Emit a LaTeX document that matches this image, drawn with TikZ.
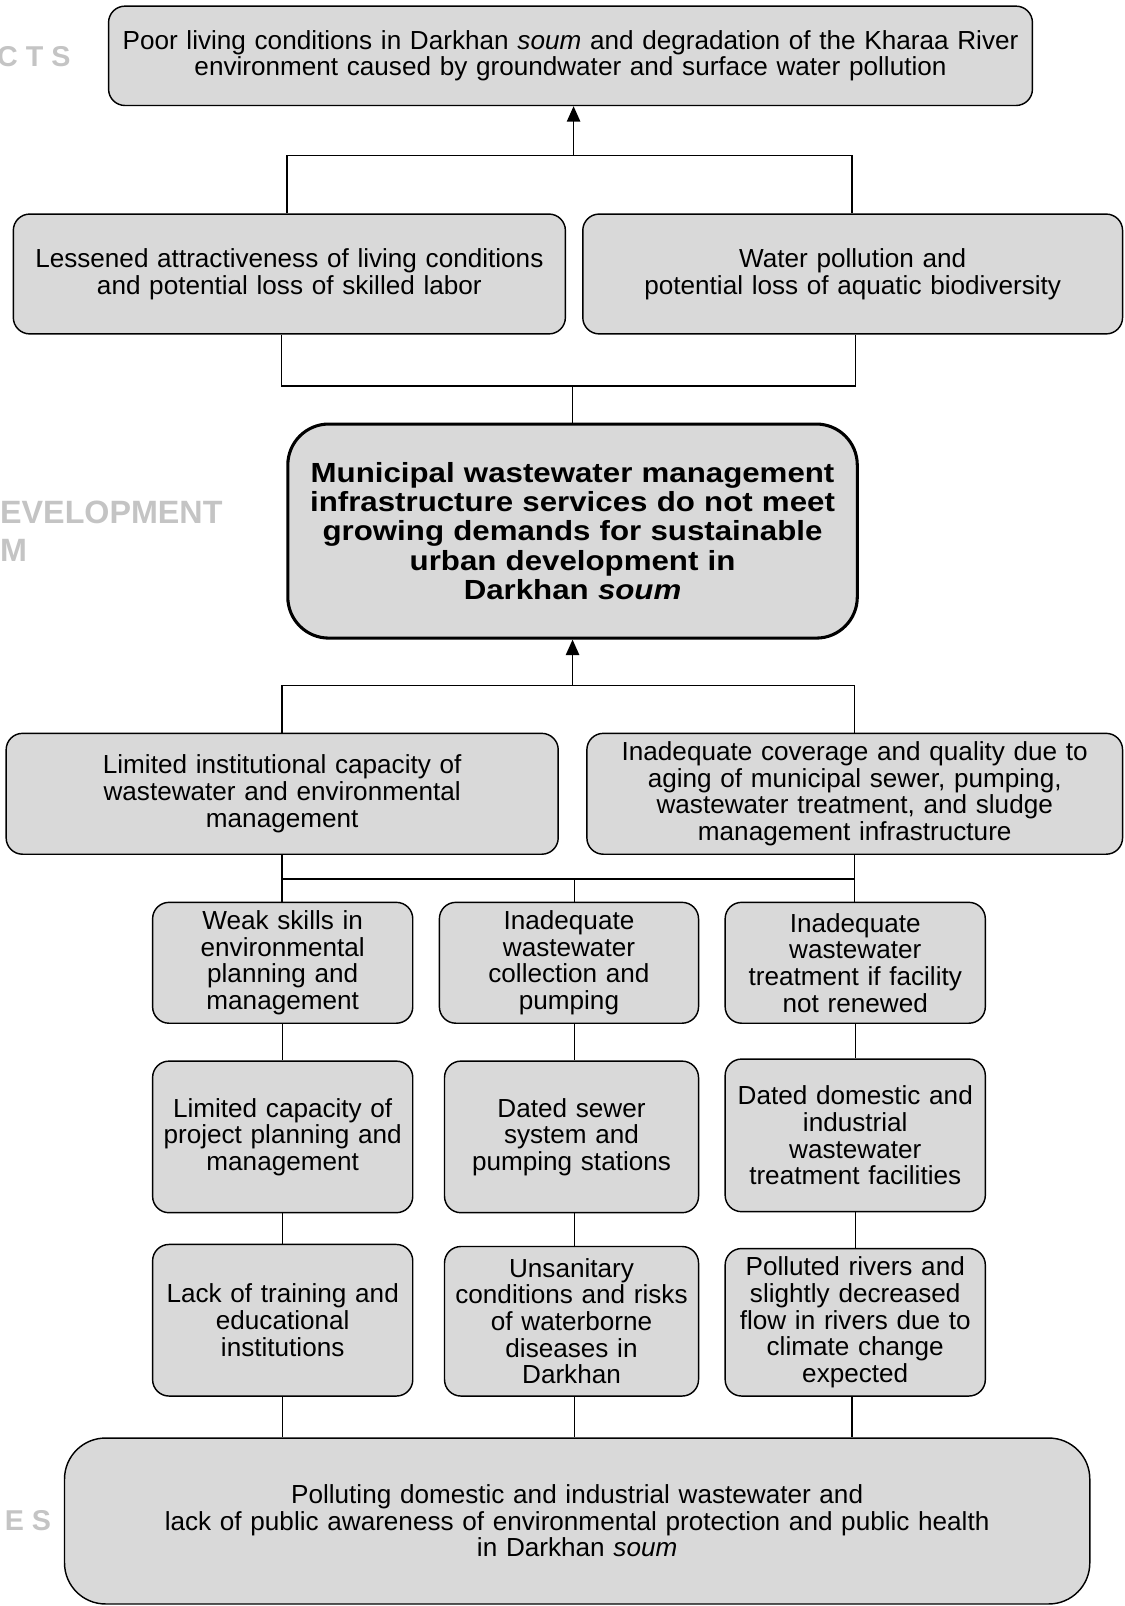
\documentclass[tikz,border=0pt]{standalone}
\usepackage{fontspec}
\setmainfont{Liberation Sans}
\newfontfamily\widefont[FakeStretch=1.13]{Liberation Sans}
\usetikzlibrary{arrows.meta}
\definecolor{boxgray}{HTML}{D9D9D9}
\definecolor{wmgray}{HTML}{C4C4C4}
\newcommand\fsreg{\fontsize{25.5}{26}\selectfont}
\newcommand\fsbold{\widefont\fontsize{27}{28.5}\selectfont\bfseries}
\begin{document}
\begin{tikzpicture}[x=1pt,y=-1pt,
  box/.style={draw, line width=1.4pt, fill=boxgray, rounded corners=16pt,
    inner sep=0pt, align=center, font=\fsreg},
  bigbox/.style={box, line width=3pt, rounded corners=40pt, font=\fsbold},
  conn/.style={line width=1.4pt},
  arr/.style={line width=1.4pt, -{Triangle[length=15pt,width=13pt]}},
  wm/.style={text=wmgray, font=\bfseries, inner sep=0pt}]
\useasboundingbox (0,0) rectangle (1098,1568);
\clip (0,0) rectangle (1098,1568);

% watermark labels (at left edge)
\node[wm, font=\fontsize{28}{28}\selectfont\bfseries, anchor=east] (wa) at (69,55) {C T S};
\node[wm, font=\fontsize{31.5}{31.5}\selectfont\bfseries, anchor=west] (wb) at (0,500) {EVELOPMENT};
\node[wm, font=\fontsize{31.5}{31.5}\selectfont\bfseries, anchor=west] (wc) at (0,537) {M};
\node[wm, font=\fontsize{28}{28}\selectfont\bfseries, anchor=east] (wd) at (50,1485) {E S};

% boxes
\node[box, minimum width=902pt, minimum height=97pt, text width=894pt] (top) at (557,54.5)
  {Poor living conditions in Darkhan \textit{soum} and degradation of the Kharaa River\\
   environment caused by groundwater and surface water pollution};
\node[box, minimum width=539pt, minimum height=117pt, text width=531pt] (L2a) at (282.5,267.5)
  {Lessened attractiveness of living conditions\\ and potential loss of skilled labor};
\node[box, minimum width=527pt, minimum height=117pt, text width=519pt] (L2b) at (832.5,267.5)
  {Water pollution and\\ potential loss of aquatic biodiversity};
\node[bigbox, minimum width=556pt, minimum height=209pt, text width=546pt] (C) at (559,518.5)
  {Municipal wastewater management\\ infrastructure services do not meet\\
   growing demands for sustainable\\ urban development in\\ Darkhan \textit{soum}};
\node[box, minimum width=539pt, minimum height=118pt, text width=531pt] (L4a) at (275.5,775)
  {Limited institutional capacity of\\ wastewater and environmental\\ management};
\node[box, minimum width=523pt, minimum height=118pt, text width=515pt] (L4b) at (834.5,775)
  {Inadequate coverage and quality due to\\ aging of municipal sewer, pumping,\\
   wastewater treatment, and sludge\\ management infrastructure};

\node[box, minimum width=254pt, minimum height=118pt, text width=248pt] (R1a) at (276,940)
  {Weak skills in\\ environmental\\ planning and\\ management};
\node[box, minimum width=253pt, minimum height=118pt, text width=247pt] (R1b) at (555.5,940)
  {Inadequate\\ wastewater\\ collection and\\ pumping};
\node[box, minimum width=254pt, minimum height=118pt, text width=248pt] (R1c) at (835,940)
  {Inadequate\\ wastewater\\ treatment if facility\\ not renewed};

\node[box, minimum width=254pt, minimum height=148pt, text width=248pt] (R2a) at (276,1110)
  {Limited capacity of\\ project planning and\\ management};
\node[box, minimum width=248pt, minimum height=148pt, text width=242pt] (R2b) at (558,1110)
  {Dated sewer\\ system and\\ pumping stations};
\node[box, minimum width=254pt, minimum height=149pt, text width=248pt] (R2c) at (835,1108.5)
  {Dated domestic and\\ industrial\\ wastewater\\ treatment facilities};

\node[box, minimum width=254pt, minimum height=148pt, text width=248pt] (R3a) at (276,1289)
  {Lack of training and\\ educational\\ institutions};
\node[box, minimum width=248pt, minimum height=146pt, text width=242pt] (R3b) at (558,1290)
  {Unsanitary\\ conditions and risks\\ of waterborne\\ diseases in\\ Darkhan};
\node[box, minimum width=254pt, minimum height=144pt, text width=248pt] (R3c) at (835,1291)
  {Polluted rivers and\\ slightly decreased\\ flow in rivers due to\\ climate change\\ expected};

\node[box, rounded corners=40pt, minimum width=1001pt, minimum height=162pt, text width=990pt] (B) at (563.5,1485)
  {Polluting domestic and industrial wastewater and\\
   lack of public awareness of environmental protection and public health\\
   in Darkhan \textit{soum}};

% connectors
\coordinate (j1) at (560,152);
\draw[conn] ([xshift=-2.5pt]L2a.north) |- (j1) -| ([xshift=-0.5pt]L2b.north);
\draw[arr] (j1) -- (j1 |- top.south);

\coordinate (j2) at (559,377);
\draw[conn] ([xshift=-7.5pt]L2a.south) |- (j2) -| ([xshift=2.5pt]L2b.south);
\draw[conn] (j2) -- (j2 |- C.north);

\coordinate (j3) at (559,669);
\draw[conn] (L4a.north) |- (j3) -| (L4b.north);
\draw[arr] (j3) -- (j3 |- C.south);

\coordinate (j4) at (561,858);
\draw[conn] (L4a.south) -- (L4a.south |- R1a.north);
\draw[conn] (L4b.south) -- (L4b.south |- R1c.north);
\draw[conn] (R1a.north |- j4) -- (R1c.north |- j4);
\draw[conn] (j4) -- (j4 |- R1b.north);

\draw[conn] (R1a) -- (R2a);
\draw[conn] (R1b.south -| j4) -- (R2b.north -| j4);
\draw[conn] (R1c) -- (R2c);
\draw[conn] (R2a) -- (R3a);
\draw[conn] (R2b.south -| j4) -- (R3b.north -| j4);
\draw[conn] (R2c) -- (R3c);

\draw[conn] (R3a.south) -- (R3a.south |- B.north);
\draw[conn] (R3b.south -| j4) -- (j4 |- B.north);
\draw[conn] ([xshift=-3pt]R3c.south) -- ([xshift=-3pt]R3c.south |- B.north);
\end{tikzpicture}
\end{document}
